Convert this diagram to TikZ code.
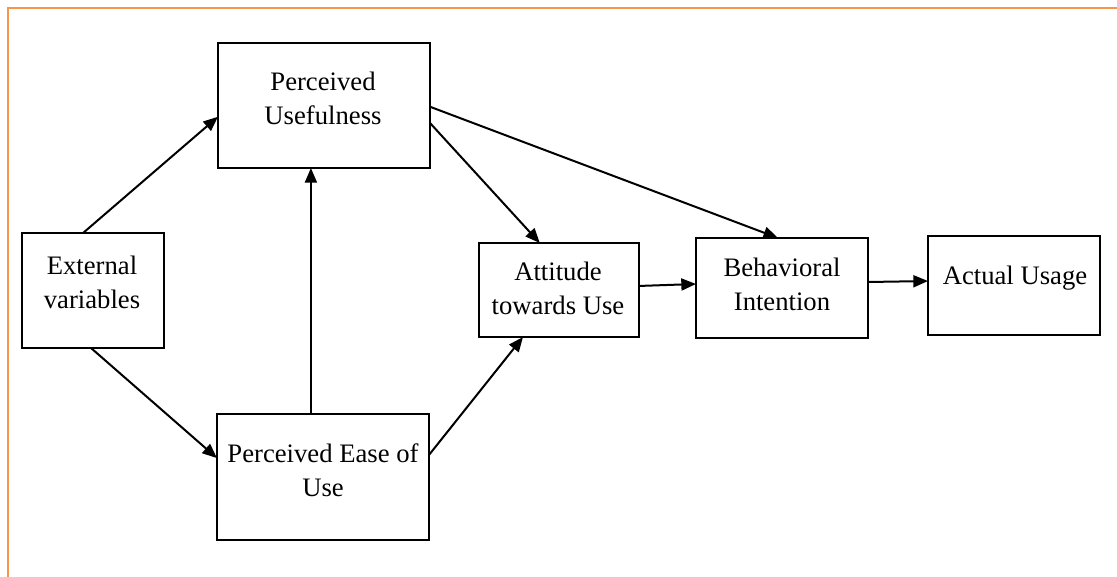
\documentclass[tikz,border=0pt]{standalone}
\usepackage{fontspec}
\setmainfont{Liberation Serif}
\usetikzlibrary{arrows.meta,calc}
\definecolor{frameorange}{RGB}{247,150,70}
\begin{document}
\begin{tikzpicture}[x=0.75pt,y=-0.75pt,
  box/.style={draw=black,line width=1.6pt,inner sep=0pt,outer sep=0pt},
  lbl/.style={align=center,inner sep=0pt,font=\fontsize{20}{25.5}\selectfont},
  arr/.style={line width=1.5pt,-{Triangle[length=11pt,width=9pt]}}]
\useasboundingbox (0,0) rectangle (1117,577);
\draw[frameorange,line width=1.6pt] (8,577) -- (8,8) -- (1117,8);
% boxes
\node[box,minimum width=212*0.75pt,minimum height=125*0.75pt] (pu) at (324,105.5) {};
\node[box,minimum width=142*0.75pt,minimum height=115*0.75pt] (ext) at (93,290.5) {};
\node[box,minimum width=212*0.75pt,minimum height=126*0.75pt] (peou) at (323,477) {};
\node[box,minimum width=160*0.75pt,minimum height=94*0.75pt] (att) at (559,290) {};
\node[box,minimum width=172*0.75pt,minimum height=100*0.75pt] (bi) at (782,288) {};
\node[box,minimum width=172*0.75pt,minimum height=99*0.75pt] (au) at (1014,285.5) {};
% labels
\node[lbl] (tpu) at (323,98) {Perceived\\Usefulness};
\node[lbl] (text) at (92,282.5) {External\\variables};
\node[lbl] (tpeou) at (323,470) {Perceived Ease of\\Use};
\node[lbl] (tatt) at (558,288) {Attitude\\towards Use};
\node[lbl] (tbi) at (782,284) {Behavioral\\Intention};
\node[lbl,anchor=base] (tau) at (1015,285) {Actual Usage};
% connectors
\draw[arr] ($(ext.north west)!0.43!(ext.north east)$) -- ($(pu.north west)!0.59!(pu.south west)$);
\draw[arr] ($(ext.south west)!0.486!(ext.south east)$) -- ($(peou.north west)!0.35!(peou.south west)$);
\coordinate (pe) at ($(peou.north west)!0.443!(peou.north east)$);
\draw[arr] (pe) -- (pe |- pu.south);
\draw[arr] ($(pu.north east)!0.64!(pu.south east)$) -- ($(att.north west)!0.38!(att.north east)$);
\draw[arr] ($(pu.north east)!0.51!(pu.south east)$) -- ($(bi.north west)!0.477!(bi.north east)$);
\draw[arr] ($(peou.north east)!0.325!(peou.south east)$) -- ($(att.south west)!0.275!(att.south east)$);
\draw[arr] ($(att.north east)!0.457!(att.south east)$) -- ($(bi.north west)!0.46!(bi.south west)$);
\draw[arr] ($(bi.north east)!0.44!(bi.south east)$) -- ($(au.north west)!0.455!(au.south west)$);
\end{tikzpicture}
\end{document}
